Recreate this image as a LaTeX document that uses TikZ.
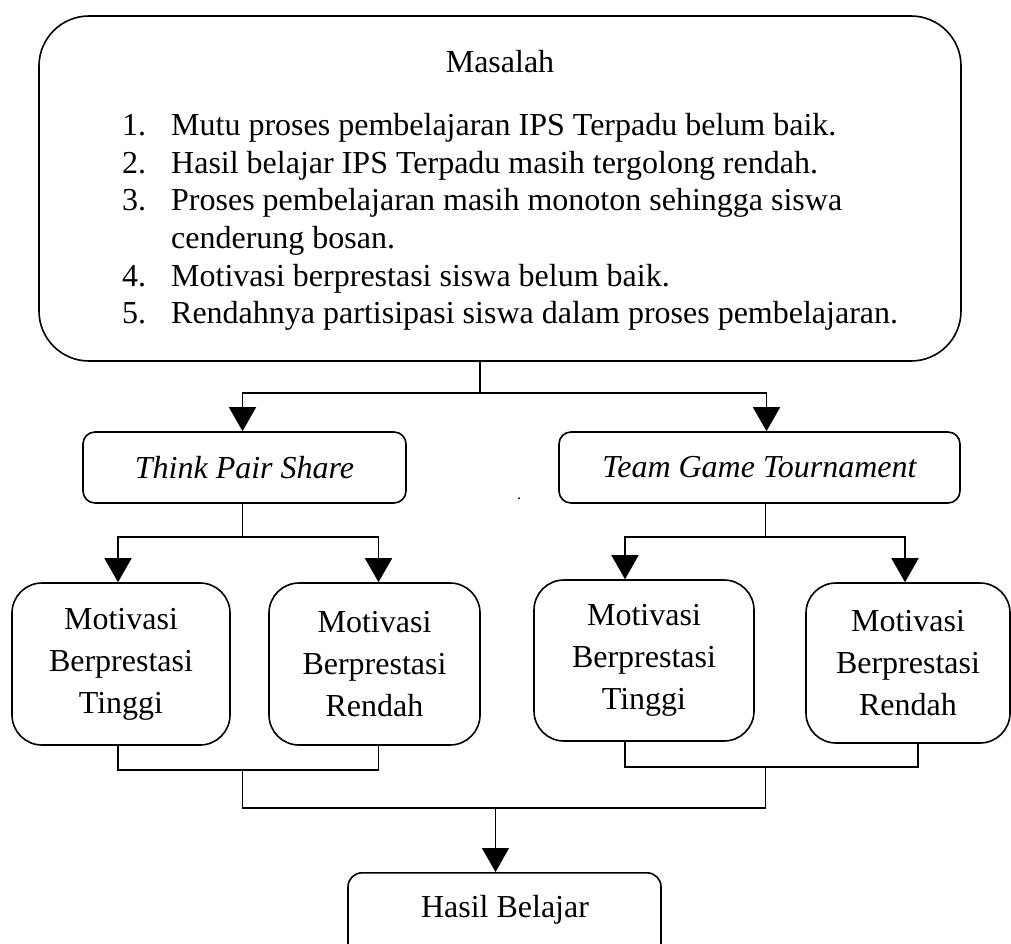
\documentclass[tikz,border=0pt]{standalone}
\usepackage{fontspec}
\setmainfont{Liberation Serif}
\usetikzlibrary{calc,positioning}
\usetikzlibrary{arrows.meta}

\tikzset{
kotak/.style={draw,line width=1.6pt,inner sep=0pt,align=center,font=\fontsize{32}{42}\selectfont},
teks/.style={inner sep=0pt,font=\fontsize{32}{37.5}\selectfont},
garis/.style={line width=1.6pt},
panah/.style={line width=1.6pt,-{Triangle[length=24pt,width=27pt]}},
}

\begin{document}
\begin{tikzpicture}[x=1pt,y=-1pt]%%%kerangka berpikir
\useasboundingbox (0,0) rectangle (1011,944);
\clip (0,0) rectangle (1011,944);
\node [kotak,rounded corners=50pt] (masalah) at (500,188.5) [minimum width=922pt,minimum height=345pt] {};
\node [teks,anchor=base] (judul) at (500,73) {Masalah};
\node [teks,anchor=base west] (daftar) at (122,136) {\begin{tabular}[t]{@{}p{49pt}@{}l@{}}
1. & Mutu proses pembelajaran IPS Terpadu belum baik.\\
2. & Hasil belajar IPS Terpadu masih tergolong rendah.\\
3. & Proses pembelajaran masih monoton sehingga siswa\\
   & cenderung bosan.\\
4. & Motivasi berprestasi siswa belum baik.\\
5. & Rendahnya partisipasi siswa dalam proses pembelajaran.
\end{tabular}};

\node [kotak,rounded corners=12pt] (tps) at (244.5,467.5) [minimum width=323pt,minimum height=71pt] {\itshape Think Pair Share};
\node [kotak,rounded corners=12pt] (tgt) at (759.5,467.5) [minimum width=401pt,minimum height=71pt] {\itshape Team Game Tournament};
\node [inner sep=0pt,font=\fontsize{16}{16}\selectfont,anchor=base] (titik) at (519,499) {.};

\node [kotak,rounded corners=30pt] (mt1) at (121,664) [minimum width=218pt,minimum height=162pt] {Motivasi\\Berprestasi\\Tinggi};
\node [kotak,rounded corners=30pt] (mr1) at (374.5,664) [minimum width=211pt,minimum height=162pt] {Motivasi\\Berprestasi\\Rendah};
\node [kotak,rounded corners=30pt] (mt2) at (644,660.5) [minimum width=220pt,minimum height=161pt] {Motivasi\\Berprestasi\\Tinggi};
\node [kotak,rounded corners=30pt] (mr2) at (908,663) [minimum width=204pt,minimum height=160pt] {Motivasi\\Berprestasi\\Rendah};

\node [kotak,rounded corners=14pt,anchor=north] (hasil) at (504.5,872) [minimum width=313pt,minimum height=120pt] {};
\node [teks,anchor=base] (hasilteks) at (505,917.5) {Hasil Belajar};

\draw[garis] ([xshift=-20pt]masalah.south) -- ++(0,31) coordinate (c1);
\draw[panah] (c1) -| ([xshift=-2pt]tps.north);
\draw[panah] (c1) -| ([xshift=7pt]tgt.north);

\draw[garis] ([xshift=-2pt]tps.south) -- ++(0,33) coordinate (c2);
\draw[panah] (c2) -| ([xshift=-3pt]mt1.north);
\draw[panah] (c2) -| ([xshift=4pt]mr1.north);
\draw[garis] ([xshift=6pt]tgt.south) -- ++(0,33) coordinate (c3);
\draw[panah] (c3) -| ([xshift=-19pt]mt2.north);
\draw[panah] (c3) -| ([xshift=-3pt]mr2.north);

\draw[garis] ([xshift=-3pt]mt1.south) -- ++(0,24) coordinate (d1) -| ([xshift=4pt]mr1.south);
\draw[garis] ([xshift=-19pt]mt2.south) -- ++(0,25) coordinate (d2) -| ([xshift=10pt]mr2.south);
\coordinate (e1) at ($(d1 -| c2)+(0,38)$);
\draw[garis] (d1 -| c2) -- (e1) -- (e1 -| c3) -- (d2 -| c3);
\coordinate (h1) at ([xshift=-9pt]hasil.north);
\draw[panah] (e1 -| h1) -- (h1);
\end{tikzpicture}
\end{document}
